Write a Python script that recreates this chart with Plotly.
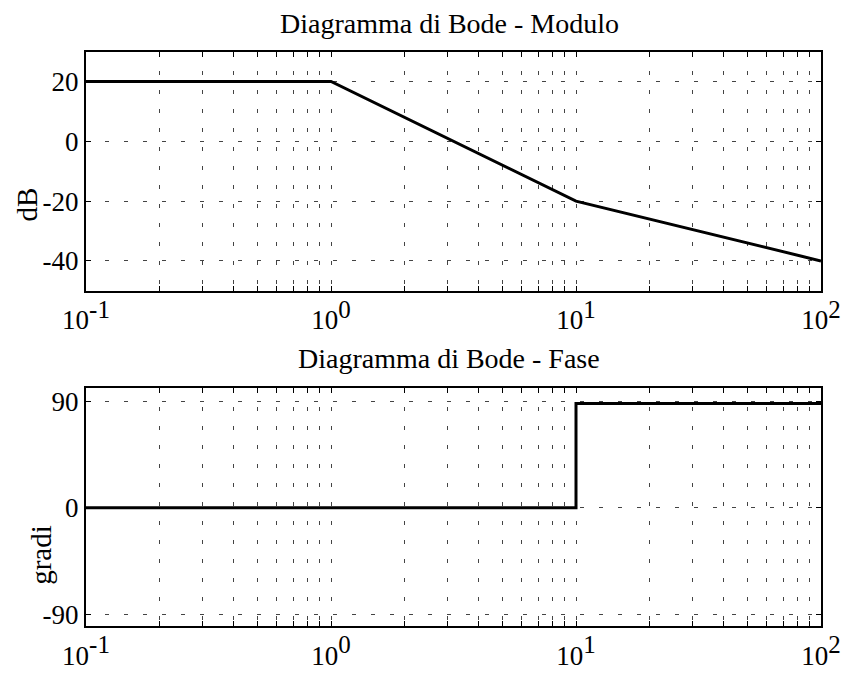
import plotly.graph_objects as go
from plotly.subplots import make_subplots

# Data
freq_mod = [0.1, 1, 10, 100]
mag_db = [20, 20, -20, -40]
freq_phase = [0.1, 10, 10, 100]
phase_deg = [0, 0, 88, 88]

decades = [0.1, 1, 10, 100]
decade_labels = ["10<sup><span style='font-size:25px'>-1</span></sup>",
                 "10<sup><span style='font-size:25px'>0</span></sup>",
                 "10<sup><span style='font-size:25px'>1</span></sup>",
                 "10<sup><span style='font-size:25px'>2</span></sup>"]
mag_ticks = [-40, -20, 0, 20]
phase_ticks = [-90, 0, 90]

FONT = "Liberation Serif"
GRID = dict(showgrid=True, gridcolor="#444", gridwidth=1, griddash="4px,15px")

fig = make_subplots(rows=2, cols=1, vertical_spacing=0.1)
fig.add_trace(go.Scatter(x=freq_mod, y=mag_db, mode="lines",
                         line=dict(color="black", width=3), showlegend=False), row=1, col=1)
fig.add_trace(go.Scatter(x=freq_phase, y=phase_deg, mode="lines",
                         line=dict(color="black", width=3), showlegend=False), row=2, col=1)

xcommon = dict(type="log", range=[-1, 2], tickmode="array", tickvals=decades, ticktext=decade_labels,
               **GRID,
               minor=dict(dtick="D1", ticks="inside", ticklen=5, tickcolor="black", **GRID),
               showline=True, linecolor="black", linewidth=2, mirror="ticks",
               ticks="inside", ticklen=5, tickcolor="black", ticklabelstandoff=4,
               tickfont=dict(family=FONT, size=27, color="black"), zeroline=False)
fig.update_xaxes(**xcommon)
fig.update_xaxes(domain=[0, 1])

ycommon = dict(**GRID,
               showline=True, linecolor="black", linewidth=2, mirror="ticks",
               ticks="inside", ticklen=5, tickcolor="black",
               tickfont=dict(family=FONT, size=27, color="black"), zeroline=False,
               tickmode="array")
fig.update_yaxes(**ycommon)
fig.update_yaxes(range=[-50, 30], tickvals=mag_ticks, ticktext=[str(t) for t in mag_ticks],
                 domain=[1 - 292 / 675, 1 - 51 / 675], row=1, col=1)
fig.update_yaxes(range=[-100, 101], tickvals=phase_ticks, ticktext=[str(t) for t in phase_ticks],
                 domain=[1 - 630 / 675, 1 - 390 / 675], row=2, col=1)

ann_font = dict(family=FONT, size=28, color="black")
fig.add_annotation(text="Diagramma di Bode - Modulo", xref="paper", yref="paper",
                   x=(449 - 86) / 735, y=1 - 23 / 675, xanchor="center", yanchor="middle",
                   showarrow=False, font=ann_font)
fig.add_annotation(text="Diagramma di Bode - Fase", xref="paper", yref="paper",
                   x=(449 - 86) / 735, y=1 - 360 / 675, xanchor="center", yanchor="middle",
                   showarrow=False, font=ann_font)
fig.add_annotation(text="dB", xref="paper", yref="paper", textangle=-90,
                   x=(27 - 86) / 735, y=1 - 205 / 675, xanchor="center", yanchor="middle",
                   showarrow=False, font=dict(family=FONT, size=29, color="black"))
fig.add_annotation(text="gradi", xref="paper", yref="paper", textangle=-90,
                   x=(41 - 86) / 735, y=1 - 558 / 675, xanchor="center", yanchor="middle",
                   showarrow=False, font=dict(family=FONT, size=29, color="black"))

fig.update_layout(width=848, height=675, margin=dict(l=86, r=27, t=0, b=0),
                  paper_bgcolor="white", plot_bgcolor="white")

fig.write_html("out.html")
